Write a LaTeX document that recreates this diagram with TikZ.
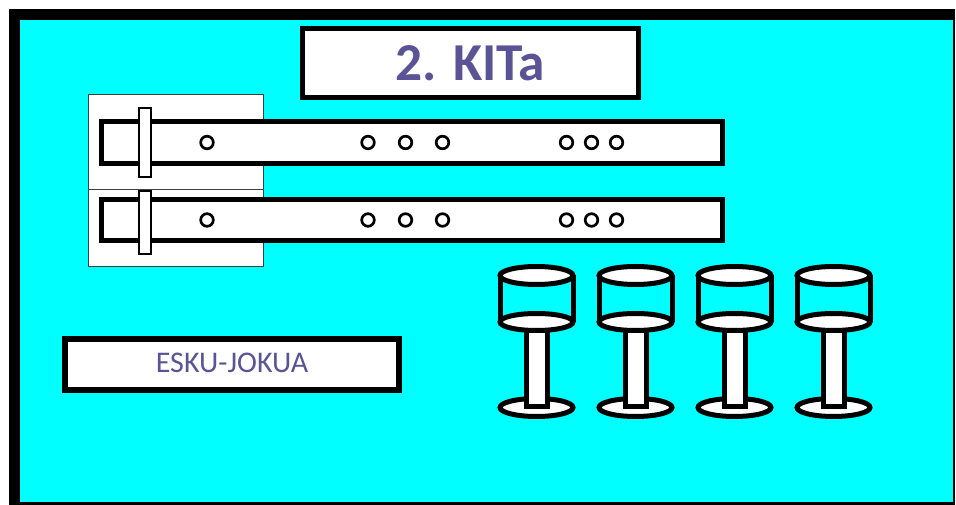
\documentclass[tikz,border=0pt]{standalone}
\usepackage{fontspec}
\setmainfont{Carlito}
\definecolor{panelcyan}{RGB}{0,255,255}
\definecolor{labelpurple}{RGB}{90,84,150}
\begin{document}
\begin{tikzpicture}[x=0.75pt,y=-0.75pt,
  frame/.style={fill=white,draw=black,line width=3.75pt},
  panel/.style={fill=white,draw=black!75,line width=1.1pt},
  slider/.style={fill=white,draw=black,line width=1.5pt},
  hole/.style={draw=black,line width=2pt,fill=white},
  glassline/.style={draw=black,line width=3.75pt,fill=white},
  title/.style={text=labelpurple,font=\fontsize{40}{44}\selectfont\bfseries},
  caption/.style={text=labelpurple,font=\fontsize{22.5}{26}\selectfont}]
\useasboundingbox (0,0) rectangle (956,505);
\fill[white] (0,0) rectangle (956,505);
% board with thick border
\fill[black] (9,9) rectangle (955,505);
\fill[panelcyan] (20,20) rectangle (953,502);
% title plate
\draw[frame] (302.5,28.5) rectangle (638.5,97.5);
\node[title] (kit) at (470.5,63) {2. KITa};
% mounting plates behind the rails
\draw[panel] (88.5,94.5) rectangle (263.5,189.5);
\draw[panel] (88.5,189.5) rectangle (263.5,266.5);
% rails
\draw[frame] (101.5,121.5) rectangle (722.5,163.5);
\draw[frame] (101.5,199.5) rectangle (722.5,240.5);
% sliders
\draw[slider] (139,108) rectangle (151,177);
\draw[slider] (139,191) rectangle (151,254);
% holes along the rails
\foreach \hx in {207,368,405.5,442.5,566.5,591.5,616.5}{
  \draw[hole] (\hx,142.5) circle[radius=6.3];
  \draw[hole] (\hx,220) circle[radius=6.3];
}
% label plate
\draw[black,fill=white,line width=4.5pt] (65,339) rectangle (399,390);
\node[caption] (esku) at (232,363) {ESKU-JOKUA};
% goblets
\foreach \cx in {536.5,635.5,734.5,833.5}{
  \draw[glassline] (\cx,407.5) ellipse[x radius=36.5,y radius=9];
  \draw[glassline] (\cx-10.5,326) rectangle (\cx+10.5,406.5);
  \draw[black,line width=3.75pt] (\cx-36.5,275.5) -- (\cx-36.5,322);
  \draw[black,line width=3.75pt] (\cx+36.5,275.5) -- (\cx+36.5,322);
  \draw[glassline] (\cx,322) ellipse[x radius=36.5,y radius=8.5];
  \draw[glassline] (\cx,275.5) ellipse[x radius=36.5,y radius=9];
}
\end{tikzpicture}
\end{document}
